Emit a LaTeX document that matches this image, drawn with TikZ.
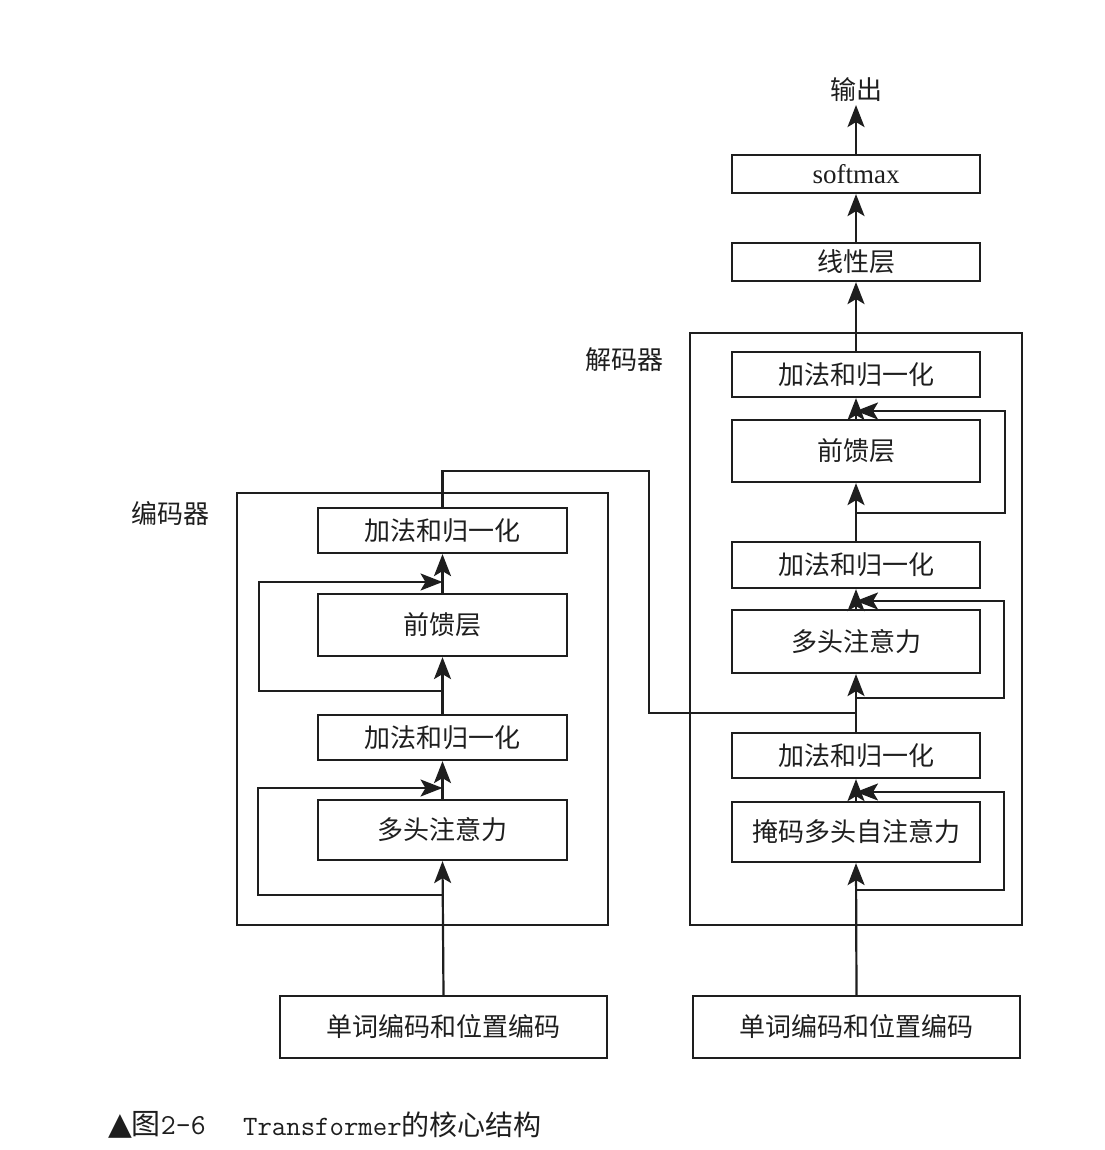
\documentclass[tikz,border=0pt]{standalone}
\usepackage{fontspec}
\newfontfamily\cjk{Noto Sans CJK SC}
\newfontfamily\symfont{DejaVu Sans}
\newfontfamily\timesfont{Liberation Serif}
\usetikzlibrary{arrows.meta}
\begin{document}
\begin{tikzpicture}[x=1pt,y=-1pt,
  line width=2.2pt,
  blk/.style={draw, rectangle, inner sep=0pt, minimum width=249pt, font=\fontsize{26}{30}\selectfont\cjk},
  inbox/.style={blk, minimum width=327pt, minimum height=62pt},
  lbl/.style={inner sep=0pt, font=\fontsize{26}{30}\selectfont\cjk},
  arr/.style={-{Stealth[length=22pt,width=17pt,inset=5pt]}},
  frame/.style={draw}]
\useasboundingbox (0,0) rectangle (1104,1150);
\fill[white] (0,0) rectangle (1104,1150);
\tikzset{every path/.append style={draw={rgb,255:red,30;green,30;blue,30}, text={rgb,255:red,30;green,30;blue,30}}}

% ---------- Encoder ----------
\draw[frame] (237,493) rectangle (608,925);
\node[lbl] (enclbl) at (170,514) {编码器};
\node[blk, minimum height=45pt] (eadd2) at (442.5,530.5) {加法和归一化};
\node[blk, minimum height=62pt] (eff)   at (442.5,625)   {前馈层};
\node[blk, minimum height=45pt] (eadd1) at (442.5,737.5) {加法和归一化};
\node[blk, minimum height=60pt] (eatt)  at (442.5,830)   {多头注意力};
\node[inbox] (ein) at (443.5,1027) {单词编码和位置编码};

\coordinate (er1a) at (442.5,895);
\coordinate (er1b) at (442.5,788);
\coordinate (er2a) at (442.5,691);
\coordinate (er2b) at (442.5,582);
\draw[arr] (ein.north) -- (eatt.south);
\draw[arr] (er1a) -- (258,895) -- (258,788) -- (er1b);
\draw[arr] (eatt.north) -- (eadd1.south);
\draw[arr] (eadd1.north) -- (eff.south);
\draw[arr] (er2a) -- (259,691) -- (259,582) -- (er2b);
\draw[arr] (eff.north) -- (eadd2.south);

% ---------- Decoder ----------
\draw[frame] (690,333) rectangle (1022,925);
\node[lbl] (declbl) at (624,360) {解码器};
\node[blk, minimum width=248pt, minimum height=45pt] (dadd3) at (856,374.5) {加法和归一化};
\node[blk, minimum width=248pt, minimum height=62pt] (dff)   at (856,451)   {前馈层};
\node[blk, minimum width=248pt, minimum height=46pt] (dadd2) at (856,565)   {加法和归一化};
\node[blk, minimum width=248pt, minimum height=63pt] (datt)  at (856,641.5) {多头注意力};
\node[blk, minimum width=248pt, minimum height=45pt] (dadd1) at (856,755.5) {加法和归一化};
\node[blk, minimum width=248pt, minimum height=60pt] (dmask) at (856,832)   {掩码多头自注意力};
\node[inbox] (din) at (856.5,1027) {单词编码和位置编码};
\node[blk, minimum width=248pt, minimum height=38pt] (linear) at (856,262) {线性层};
\node[blk, minimum width=248pt, minimum height=38pt, font=\fontsize{27}{30}\selectfont\timesfont] (softmax) at (856,174) {softmax};
\node[lbl, inner sep=2pt] (out) at (856,90) {输出};

\coordinate (dr1a) at (856,890);
\coordinate (dr1b) at (856,792);
\coordinate (dr2a) at (856,698);
\coordinate (dr2b) at (856,601);
\coordinate (dr3a) at (856,513);
\coordinate (dr3b) at (856,411);
\coordinate (cross) at (856,713);

\draw[arr] (din.north) -- (dmask.south);
\draw[arr] (dr1a) -- (1004,890) -- (1004,792) -- (dr1b);
\draw[arr] (dmask.north) -- (dadd1.south);
\draw[arr] (dadd1.north) -- (datt.south);
\draw[arr] (dr2a) -- (1004,698) -- (1004,601) -- (dr2b);
\draw[arr] (datt.north) -- (dadd2.south);
\draw[arr] (dadd2.north) -- (dff.south);
\draw[arr] (dr3a) -- (1005,513) -- (1005,411) -- (dr3b);
\draw[arr] (dff.north) -- (dadd3.south);
\draw[arr] (dadd3.north) -- (linear.south);
\draw[arr] (linear.north) -- (softmax.south);
\draw[arr] (softmax.north) -- (out.south);

% encoder output to decoder
\draw (eadd2.north) -- (442.5,471) -- (649,471) -- (649,713) -- (cross);

% ---------- Caption ----------
\node[anchor=west, inner sep=0pt, font=\fontsize{29}{32}\selectfont] (cap1) at (107,1125)
  {{\symfont\fontsize{31}{32}\selectfont ▲}{\cjk 图}\texttt{2-6}};
\node[anchor=west, inner sep=0pt, font=\fontsize{28}{32}\selectfont] (cap2) at (242,1125)
  {\texttt{Transformer}{\cjk 的核心结构}};
\end{tikzpicture}
\end{document}
